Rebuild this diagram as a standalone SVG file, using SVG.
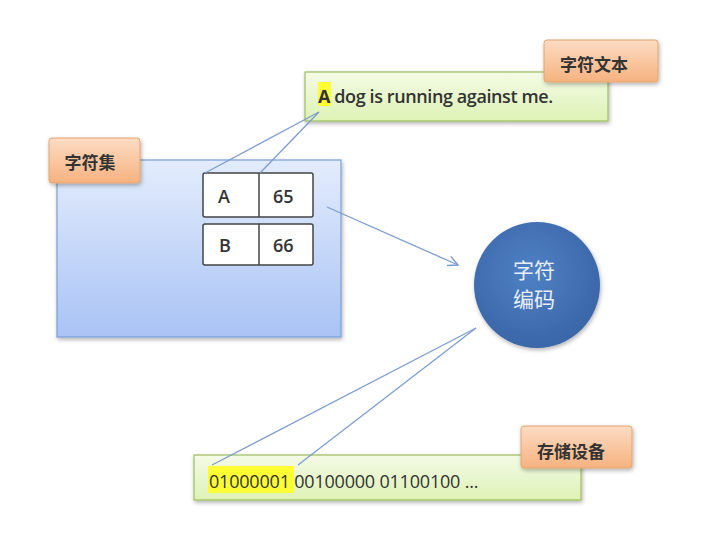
<svg xmlns="http://www.w3.org/2000/svg" width="724" height="538" viewBox="0 0 724 538">
<defs>
<linearGradient id="gBlue" x1="0" y1="0" x2="0" y2="1"><stop offset="0" stop-color="#e3ecfc"/><stop offset="1" stop-color="#a9c3f5"/></linearGradient>
<linearGradient id="gGreen" x1="0" y1="0" x2="0" y2="1"><stop offset="0" stop-color="#f4fbe6"/><stop offset="1" stop-color="#ddf2b5"/></linearGradient>
<linearGradient id="gOrange" x1="0" y1="0" x2="0" y2="1"><stop offset="0" stop-color="#fcdcc4"/><stop offset="1" stop-color="#f6b27f"/></linearGradient>
<radialGradient id="gCircle" cx="0.45" cy="0.4" r="0.6"><stop offset="0" stop-color="#4f81c4"/><stop offset="1" stop-color="#3a66a8"/></radialGradient>
<filter id="sh" x="-10%" y="-10%" width="130%" height="140%"><feDropShadow dx="1" dy="2" stdDev="1.5" flood-color="#000" flood-opacity="0.3"/></filter>
<marker id="arr" viewBox="0 0 12 12" refX="11" refY="6" markerWidth="12" markerHeight="12" markerUnits="userSpaceOnUse" orient="auto"><path d="M1,1 L11,6 L1,11" fill="none" stroke="#7c9dd0" stroke-width="1.5"/></marker>
</defs>
<style>
.lbl{fill:url(#gOrange);stroke:#e3a46f;stroke-width:1;filter:url(#sh)}
.grn{fill:url(#gGreen);stroke:#9bbf5d;stroke-width:1.2;filter:url(#sh)}
.cell{fill:#fff;stroke:#444;stroke-width:1.5}
.t{font-family:"Open Sans","Liberation Sans","Noto Sans CJK SC",sans-serif;font-size:18px;fill:#333}
.c{font-family:"Noto Sans CJK SC",sans-serif;font-size:17px;fill:#333;font-weight:bold}
.ln{stroke:#7c9dd0;stroke-width:1.3;fill:none}
</style>
<rect width="724" height="538" fill="#fff"/>
<g id="charset">
<rect x="57" y="160" width="284" height="177" fill="url(#gBlue)" stroke="#7b9ed6" stroke-width="1.2" filter="url(#sh)"/>
<rect class="lbl" x="49" y="138" width="91" height="45" rx="3"/>
<text class="c" x="90" y="169" text-anchor="middle">字符集</text>
</g>
<g id="table">
<rect class="cell" x="203" y="173" width="110" height="44" rx="2"/>
<line x1="259" y1="173" x2="259" y2="217" stroke="#444" stroke-width="1.5"/>
<rect class="cell" x="203" y="224" width="110" height="41" rx="2"/>
<line x1="259" y1="224" x2="259" y2="265" stroke="#444" stroke-width="1.5"/>
<text class="t" x="218" y="203" font-weight="600">A</text>
<text class="t" x="273" y="203" font-weight="600">65</text>
<text class="t" x="219" y="252" font-weight="600">B</text>
<text class="t" x="273" y="252" font-weight="600">66</text>
</g>
<g id="text">
<rect class="grn" x="305" y="72" width="303" height="49"/>
<rect x="318" y="82" width="13" height="24" fill="#ffff33"/>
<text class="t" x="318" y="103" font-weight="600" letter-spacing="-0.4"><tspan font-weight="bold">A</tspan> dog is running against me.</text>
<rect class="lbl" x="544" y="40" width="114" height="42" rx="3"/>
<text class="c" x="594" y="71" text-anchor="middle">字符文本</text>
</g>
<g id="encoding">
<circle cx="537" cy="285" r="63" fill="url(#gCircle)" filter="url(#sh)"/>
<text x="534" y="278" text-anchor="middle" font-family="Noto Sans CJK SC,sans-serif" font-size="21" fill="#e8eef8">字符</text>
<text x="534" y="307" text-anchor="middle" font-family="Noto Sans CJK SC,sans-serif" font-size="21" fill="#e8eef8">编码</text>
</g>
<g id="storage">
<rect class="grn" x="194" y="455" width="387" height="45"/>
<rect x="208" y="466" width="86" height="27" fill="#ffff33"/>
<text class="t" x="209" y="488" letter-spacing="-0.2">01000001 00100000 01100100 ...</text>
<rect class="lbl" x="521" y="426" width="111" height="42" rx="3"/>
<text class="c" x="571" y="458" text-anchor="middle">存储设备</text>
</g>
<g id="connectors">
<line class="ln" x1="319" y1="112" x2="205" y2="173"/>
<line class="ln" x1="319" y1="112" x2="260" y2="173"/>
<line class="ln" x1="327" y1="207" x2="458" y2="265" marker-end="url(#arr)"/>
<line class="ln" x1="476" y1="328" x2="212" y2="465"/>
<line class="ln" x1="476" y1="328" x2="298" y2="465"/>
</g>
</svg>
